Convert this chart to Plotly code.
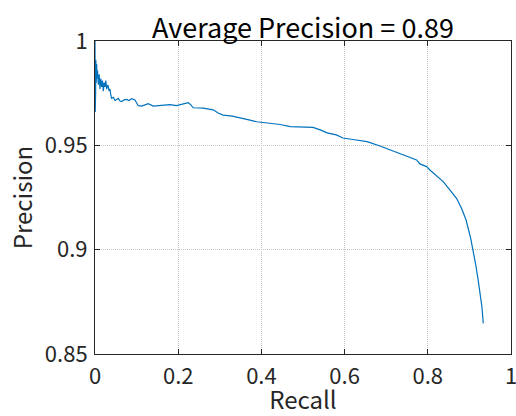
import plotly.graph_objects as go

recall = [0.000, 0.0005, 0.001, 0.0015, 0.002, 0.003, 0.004, 0.005, 0.006, 0.008,
          0.010, 0.012, 0.014, 0.016, 0.018, 0.020, 0.022, 0.024, 0.026, 0.028,
          0.031, 0.034, 0.036, 0.038, 0.040, 0.044, 0.048, 0.052, 0.056, 0.060,
          0.064, 0.070, 0.076, 0.082, 0.088, 0.096, 0.100, 0.104, 0.112, 0.120,
          0.128, 0.140, 0.160, 0.180, 0.196, 0.204, 0.216, 0.224, 0.230, 0.236,
          0.260, 0.284, 0.296, 0.308, 0.330, 0.349, 0.370, 0.389, 0.420, 0.445,
          0.469, 0.500, 0.524, 0.540, 0.558, 0.580, 0.596, 0.620, 0.654, 0.685,
          0.716, 0.733, 0.757, 0.773, 0.781, 0.797, 0.805, 0.821, 0.837, 0.853,
          0.869, 0.881, 0.892, 0.903, 0.909, 0.915, 0.921, 0.926, 0.930, 0.9334]
precision = [1.000, 0.966, 0.985, 0.975, 0.991, 0.980, 0.989, 0.982, 0.986, 0.979,
             0.984, 0.977, 0.982, 0.978, 0.981, 0.976, 0.980, 0.978, 0.981, 0.977,
             0.979, 0.976, 0.977, 0.974, 0.9725, 0.973, 0.9715, 0.972, 0.9725, 0.9712,
             0.971, 0.9718, 0.972, 0.9715, 0.9724, 0.9717, 0.9700, 0.969, 0.9688, 0.9693,
             0.970, 0.9688, 0.9692, 0.9695, 0.9690, 0.9693, 0.9700, 0.9704, 0.9695, 0.968,
             0.9678, 0.9670, 0.9655, 0.9645, 0.9640, 0.9630, 0.9622, 0.9613, 0.9606, 0.9600,
             0.9590, 0.9588, 0.9586, 0.9575, 0.9560, 0.9550, 0.9535, 0.9528, 0.9518, 0.9497,
             0.9474, 0.9462, 0.9443, 0.9430, 0.9411, 0.9398, 0.9382, 0.9353, 0.9326, 0.9286,
             0.9246, 0.9198, 0.9142, 0.9055, 0.8999, 0.8930, 0.8855, 0.8790, 0.8727, 0.8647]

title_text = "Average Precision = 0.89"
x_label = "Recall"
y_label = "Precision"
x_ticks = [0, 0.2, 0.4, 0.6, 0.8, 1]
x_tick_text = ["0", "0.2", "0.4", "0.6", "0.8", "1"]
y_ticks = [0.85, 0.9, 0.95, 1]
y_tick_text = ["0.85", "0.9", "0.95", "1"]

FONT = "Noto Sans CJK JP"
TXT = "#262626"

fig = go.Figure()
fig.add_trace(go.Scatter(x=recall, y=precision, mode="lines",
                         line=dict(color="#0072BD", width=1.2), showlegend=False))

axis_common = dict(
    showline=True, linecolor=TXT, linewidth=1, mirror="allticks",
    ticks="inside", ticklen=5, tickcolor=TXT, tickwidth=1,
    showgrid=True, gridcolor="#c4c4c4", griddash="1px,1px", gridwidth=1,
    zeroline=False, automargin=False, ticklabeloverflow="allow",
    tickfont=dict(family=FONT, size=22, color=TXT),
)

fig.update_layout(
    width=516, height=416,
    margin=dict(l=95, r=5, t=41, b=62),
    paper_bgcolor="white", plot_bgcolor="white",
    title=dict(text=title_text, x=0.5, xanchor="center", xref="paper",
               y=1, yref="paper", yanchor="bottom", pad=dict(b=3),
               font=dict(family=FONT, size=27, color="black")),
    xaxis=dict(range=[0, 1], tickvals=x_ticks, ticktext=x_tick_text,
               ticklabelstandoff=3,
               title=dict(text=x_label, font=dict(family=FONT, size=24, color=TXT), standoff=5),
               **axis_common),
    yaxis=dict(range=[0.85, 1], tickvals=y_ticks, ticktext=y_tick_text,
               ticklabelstandoff=2,
               title=dict(text=y_label, font=dict(family=FONT, size=24, color=TXT), standoff=5),
               **axis_common),
)

fig.write_html("out.html",
               config={"displayModeBar": False},
               post_script="document.body.style.margin='0';document.body.style.overflow='hidden';")
